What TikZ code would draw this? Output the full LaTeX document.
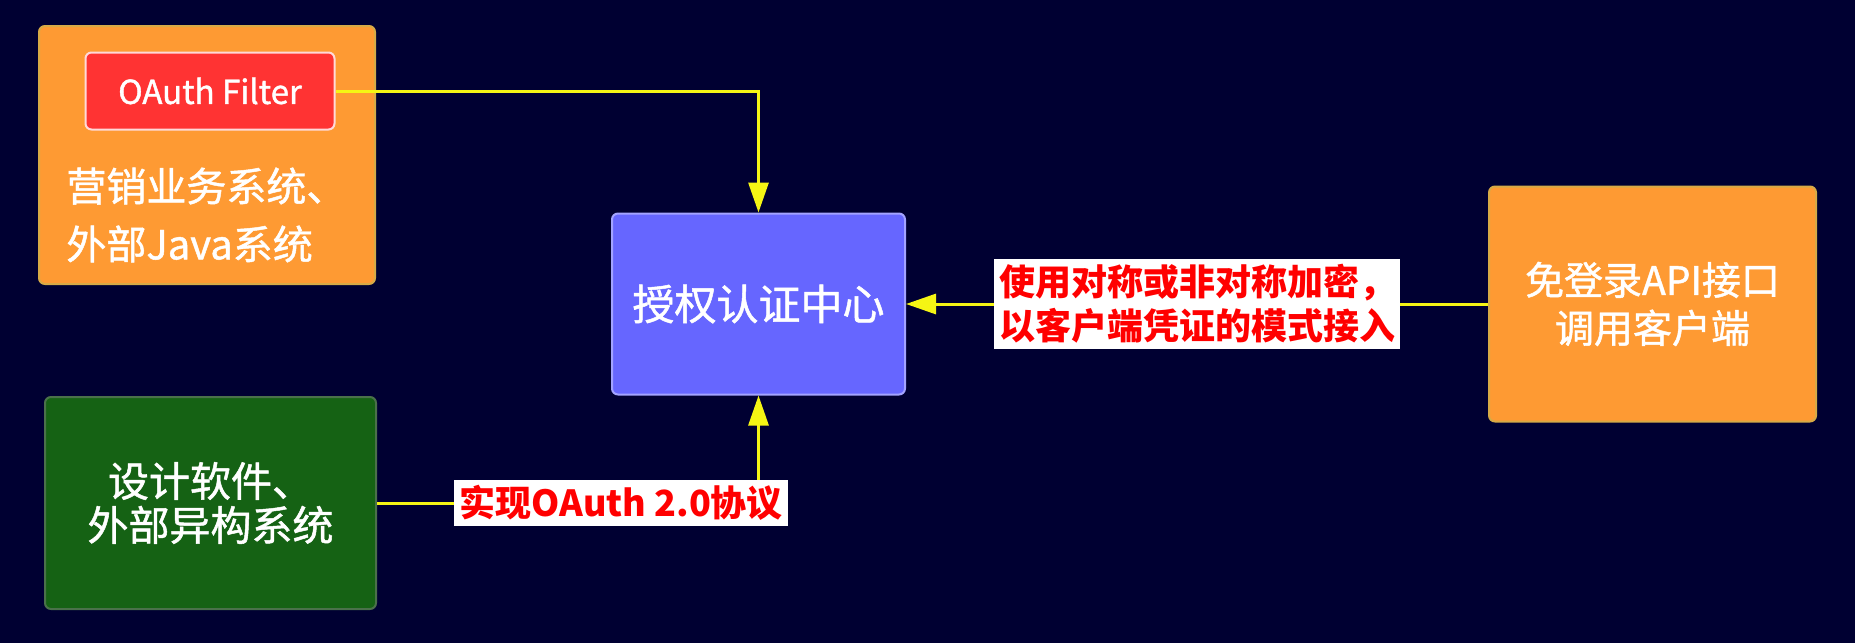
\documentclass[tikz,border=0pt]{standalone}
\usepackage{fontspec}
\setmainfont{Noto Sans CJK SC}
\newfontfamily\boxfont{Noto Sans CJK SC}[FakeBold=1.2]
\usetikzlibrary{arrows.meta}
\definecolor{bgnavy}{RGB}{0,0,50}
\definecolor{sysorange}{RGB}{254,154,51}
\definecolor{glowyellow}{RGB}{215,170,70}
\definecolor{filterred}{RGB}{255,51,51}
\definecolor{authblue}{RGB}{102,102,255}
\definecolor{designgreen}{RGB}{21,98,20}
\definecolor{arrowyellow}{RGB}{245,245,20}
\definecolor{tagred}{RGB}{255,0,0}

\begin{document}
\begin{tikzpicture}[x=0.5pt,y=-0.5pt,
    box/.style={rounded corners=3pt, text=white, line width=1pt, font=\boxfont\fontsize{19.5}{24}\selectfont},
    conn/.style={-{Triangle[width=10pt,length=15pt]}, line width=1.5pt, draw=arrowyellow},
    tag/.style={fill=white, text=tagred, align=center, inner sep=2.5pt, font=\bfseries\fontsize{18}{22}\selectfont}]
    \useasboundingbox[fill=bgnavy] (0,0) rectangle (1855,643);
    \node[box, fill=sysorange, draw=glowyellow, minimum width=168pt, minimum height=129pt] (market) at (207,155) {};
    \node[box, fill=filterred, draw=white!85!red, minimum width=124.5pt, minimum height=38.5pt, font=\boxfont\fontsize{16.5}{18}\selectfont] (filter) at (210,91) {OAuth Filter};
    \node[text=white, anchor=west, align=left, inner sep=0pt, font=\boxfont\fontsize{20}{29}\selectfont] (markettext) at (66,215) {营销业务系统、\\外部Java系统};
    \node[box, fill=authblue, draw=authblue!60!white, minimum width=146.5pt, minimum height=90.5pt, font=\boxfont\fontsize{21}{24}\selectfont] (auth) at (758.5,304) {授权认证中心};
    \node[box, fill=designgreen, draw=gray!50!designgreen, minimum width=165.5pt, minimum height=106pt, align=center, font=\boxfont\fontsize{20.5}{22}\selectfont] (design) at (210.5,503) {设计软件、\\外部异构系统};
    \node[box, fill=sysorange, draw=glowyellow, minimum width=163.5pt, minimum height=117.5pt, align=center] (client) at (1652.5,304) {免登录API接口\\调用客户端};
    \draw[conn] (filter.east) -| (auth.north);
    \draw[conn] (design.east) -| node[tag, pos=0.32] {实现OAuth 2.0协议} (auth.south);
    \draw[conn] (client.west) -- node[tag] {使用对称或非对称加密，\\以客户端凭证的模式接入} (auth.east);
\end{tikzpicture}
\end{document}
